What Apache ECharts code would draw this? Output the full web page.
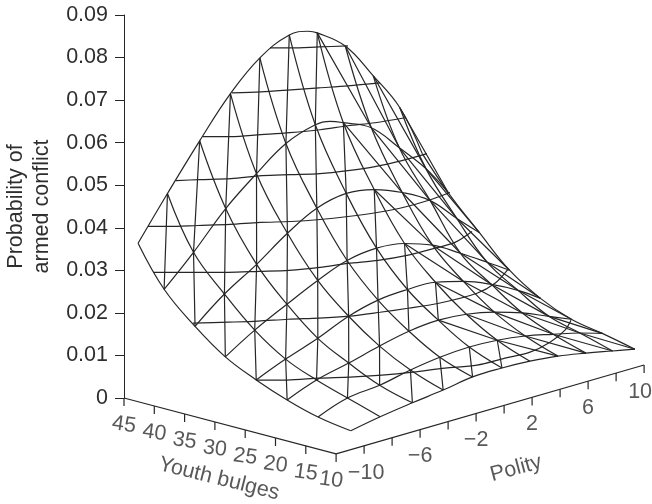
<!DOCTYPE html>
<html><head><meta charset="utf-8">
<style>html,body{margin:0;padding:0;background:#fff}#c{width:652px;height:504px}</style>
<script src="https://cdn.jsdelivr.net/npm/echarts@6/dist/echarts.min.js"></script>
</head><body><div id="c"></div>
<script>
// Surface grid
const youthGrid = [47.3, 43, 37.9, 32.9, 27.8, 22.7, 17.6, 12.2];
const polityGrid = [-10, -7.9, -5.6, -3.4, -1.3, 0.8, 2.8, 4.8, 6.8, 8.7, 10.3];
const row0 = [.0336,.0433,.0535,.0625,.0689,.0723,.0709,.0659,.0570,.0477,.0354];
const row1 = [.0244,.0311,.0392,.0453,.0504,.0528,.0514,.0483,.0417,.0350,.0278];
const row2 = [.0176,.0232,.0280,.0332,.0371,.0386,.0376,.0350,.0312,.0252,.0204];
const row3 = [.0123,.0166,.0205,.0240,.0267,.0276,.0268,.0245,.0207,.0168,.0134];
const row4 = [.0088,.0117,.0144,.0175,.0193,.0198,.0196,.0179,.0153,.0121,.0087];
const row5 = [.0060,.0087,.0105,.0124,.0139,.0145,.0140,.0126,.0105,.0079,.0057];
const row6 = [.0039,.0064,.0072,.0087,.0097,.0101,.0098,.0089,.0074,.0059,.0043];
const row7 = [.0027,.0040,.0051,.0060,.0071,.0072,.0069,.0062,.0050,.0037,.0026];
const rows = [row0,row1,row2,row3,row4,row5,row6,row7];
// Crest of the two back curves, read between grid columns: [row, polity, probability]
const crests = [[0,2.14,.0719],[1,1.86,.0526]];

// Mesh cells that carry a diagonal: [row, column]
const antiCells = [[0,0],[0,1],[1,0],[0,2],[1,1],[2,0],[0,3],[1,2],[2,1],[3,0],[0,4],[1,3],[2,2],[3,1],[4,0],
  [0,5],[1,4],[2,3],[3,2],[4,1],[1,5],[2,4],[3,3],[4,2],[5,1],[2,5],[3,4],[4,3],[5,2],[3,5],[4,4],[6,2],[4,5],[6,3],[6,4],[6,5]];
const mainCells = [[0,6],[0,7],[0,8],[0,9],[1,6],[1,7],[1,8],[1,9],[2,6],[2,7],[2,8],[2,9],[3,6],[3,7],[3,8],[3,9],
  [4,6],[4,7],[4,8],[4,9],[5,5],[5,6],[5,7],[5,8],[5,9],[6,6],[6,7],[6,8],[6,9]];

// Cross lines, read as [horizontal position, height on the probability axis]
const cross0 = [[146,.08226],[167,.08226],[195,.08249],[224,.08273]];
const cross1 = [[108,.07171],[137,.07195],[167,.07242],[195,.07288],[224,.07335],[256,.07406]];
const cross2 = [[79,.0614],[107,.0614],[137,.06187],[166,.06234],[196,.06304],[224,.06398],[251,.06468],[281,.06585]];
const cross3 = [[52,.05109],[76,.05132],[107,.05156],[138,.05226],[167,.0525],[196,.05273],[224,.05343],[251,.05437],[278,.05578],[303,.05742]];
const cross4 = [[24,.04031],[44,.04031],[74,.04054],[106,.04078],[136,.04125],[167,.04148],[196,.04195],[224,.04265],[253,.04359],[279,.04476],[304,.0464],[326,.04828]];
const cross5 = [[29,.02953],[73,.02953],[104,.02953],[135,.02976],[165,.03],[196,.0307],[224,.03164],[254,.03234],[283,.03351],[314,.03539],[331,.03656],[348,.03914]];
const cross6 = [[69,.01758],[104,.01781],[134,.01805],[164,.01851],[195,.01875],[225,.01922],[256,.02015],[284,.02109],[315,.02226],[353,.02461],[371,.02695],[384,.03023]];
const cross7 = [[132,.00422],[163,.00422],[195,.00469],[226,.00492],[258,.00539],[289,.00609],[321,.00703],[353,.00773],[381,.00937],[406,.01078],[426,.01312],[441,.01594],[447,.01828]];
const crossLines = [cross0,cross1,cross2,cross3,cross4,cross5,cross6,cross7];

// Axes
const youthTicks = [45,40,35,30,25,20,15,10];
const polityTicks = [-10,-8,-6,-4,-2,0,2,4,6,8,10];
const polityLabels = [-10,-6,-2,2,6,10];
const probTicks = {min:0,max:0.09,interval:0.01};
const polityFloorStart = -12;

// Oblique projection: horizontal units and probability-axis units
function project(youth, polity, z){
  const a = 45 - youth, b = polity - polityFloorStart;
  return [a*6.06 + b*14, z - (a*1.6 - b*4.05)/4267];
}
const TEXT = '#2e2e2e', LINE = '#262626', FONT = 'Liberation Sans', FS = 21.5;
const line = (name, data, smooth) => ({
  type:'line', name, data, smooth: smooth||false, showSymbol:false, symbol:'none', clip:false, silent:true,
  animation:false, lineStyle:{color:LINE,width:1.2}, z:2
});
const node = (i,j) => project(youthGrid[i], polityGrid[j], rows[i][j]);
const gap = ['-','-'];
const series = [];
youthGrid.forEach((y,i)=>{
  const pts = polityGrid.map((p,j)=>[p, rows[i][j]]);
  crests.filter(c=>c[0]===i).forEach(c=>pts.push([c[1],c[2]]));
  pts.sort((a,b)=>a[0]-b[0]);
  series.push(line('arc'+i, pts.map(p=>project(y,p[0],p[1])), 0.4));
});
polityGrid.forEach((_,j)=>series.push(line('ridge'+j, youthGrid.map((_,i)=>node(i,j)), 0.4)));
crossLines.forEach((c,n)=>series.push(line('cross'+n, c, 0.3)));
const anti=[]; antiCells.forEach(([r,c])=>anti.push(node(r+1,c),node(r,c+1),gap));
const main=[]; mainCells.forEach(([r,c])=>main.push(node(r,c),node(r+1,c+1),gap));
series.push(line('diagA',anti)); series.push(line('diagB',main));

// Floor axes
const drop = -0.0019, youthLabelDrop = -0.0063, polityLabelDrop = -0.0063;
series.push(line('youthAxis',[project(45,polityFloorStart,0),project(10,polityFloorStart,0)]));
series.push(line('polityAxis',[project(10,polityFloorStart,0),project(10,10,0)]));
const yt=[]; youthTicks.forEach(t=>yt.push(project(t,polityFloorStart,0),project(t,polityFloorStart,drop),gap));
const pt=[]; polityTicks.forEach(t=>pt.push(project(10,t,0),project(10,t,drop),gap));
series.push(line('youthTicks',yt)); series.push(line('polityTicks',pt));

const textSeries = (name,data,rotate)=>({
  type:'scatter', name, data, symbolSize:1, clip:false, silent:true, animation:false,
  itemStyle:{color:'transparent'},
  label:{show:true, position:'inside', rotate, color:TEXT, fontFamily:FONT, fontSize:FS, formatter:p=>p.name}
});
series.push(textSeries('youthLabels',youthTicks.map(t=>({name:String(t),value:project(t,polityFloorStart,youthLabelDrop),
  label:t===10?{offset:[-5,0]}:undefined})),-8));
series.push(textSeries('polityLabels',polityLabels.map(t=>({name:(t<0?'\u2212'+(-t):String(t)),value:project(10,t,polityLabelDrop),
  label:t===10?{offset:[-4,0]}:(t===-10?{offset:[2,0]}:undefined)})),0));
series.push(textSeries('youthTitle',[{name:'Youth bulges',value:[95,-0.019]}],-14));
series.push(textSeries('polityTitle',[{name:'Polity',value:[392,-0.0166]}],15));

const chart = echarts.init(document.getElementById('c'),null,{renderer:'canvas'});
chart.setOption({
  animation:false, backgroundColor:'#fff',
  grid:{left:124,right:0,top:15,bottom:106,containLabel:false,outerBoundsMode:'none'},
  xAxis:{type:'value',min:0,max:528,show:false},
  yAxis:{type:'value',min:probTicks.min,max:probTicks.max,interval:probTicks.interval,
    splitLine:{show:false},
    axisLine:{show:true,lineStyle:{color:LINE,width:1}},
    axisTick:{show:true,length:9,lineStyle:{color:LINE,width:1}},
    axisLabel:{margin:16,color:TEXT,fontFamily:FONT,fontSize:FS,formatter:v=>v===0?'0':v.toFixed(2)},
    name:'Probability of\narmed conflict',nameLocation:'middle',nameRotate:90,nameGap:65,
    nameTextStyle:{color:TEXT,fontFamily:FONT,fontSize:FS,lineHeight:26}},
  series
});
</script></body></html>
